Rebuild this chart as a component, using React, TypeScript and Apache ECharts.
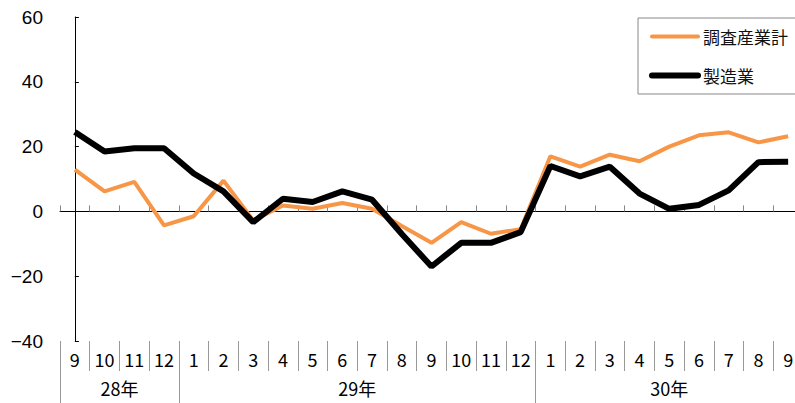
import React, { useEffect, useRef } from "react";
import * as echarts from "echarts";

const months = ["9", "10", "11", "12", "1", "2", "3", "4", "5", "6", "7", "8", "9", "10", "11", "12", "1", "2", "3", "4", "5", "6", "7", "8", "9"];
const yearLabels = ["28年", "29年", "30年"];
const yearLabelPos = [1.5, 9.5, 20];
const yearBoundaries = [-0.5, 3.5, 15.5];
const totalAll = [12.9, 6.2, 9.1, -4.3, -1.5, 9.5, -2.8, 1.8, 0.8, 2.6, 0.8, -4.5, -9.7, -3.3, -6.9, -5.5, 17, 13.8, 17.5, 15.5, 20, 23.5, 24.4, 21.3, 23.2];
const manufacturing = [24.5, 18.5, 19.5, 19.5, 11.7, 6.2, -3.3, 3.9, 2.9, 6.2, 3.6, -7, -17, -9.7, -9.7, -6.4, 14, 10.8, 13.8, 5.5, 0.8, 2, 6.5, 15.2, 15.3];
const seriesNames = ["調査産業計", "製造業"];

export default function App() {
  const ref = useRef<HTMLDivElement>(null);
  useEffect(() => {
    const chart = echarts.init(ref.current!, null, { renderer: "svg" });
    const jp = "'Noto Sans CJK JP', sans-serif";
    chart.setOption({
      animation: false,
      backgroundColor: "#fff",
      grid: { left: 60, right: -8, top: 17, bottom: 62, outerBoundsMode: "none", containLabel: false },
      legend: {
        orient: "vertical",
        left: 638,
        top: 18,
        padding: [10, 20, 10, 11],
        itemWidth: 46,
        itemHeight: 14,
        itemGap: 22,
        borderColor: "#888",
        borderWidth: 1,
        backgroundColor: "#fff",
        itemStyle: { opacity: 0 },
        textStyle: { fontFamily: jp, fontSize: 17, color: "#111" },
        data: [
          { name: seriesNames[0], lineStyle: { width: 4, color: "#F79646", cap: "round" } },
          { name: seriesNames[1], lineStyle: { width: 6, color: "#000", cap: "round" } },
        ],
      },
      xAxis: [
        {
          type: "category",
          data: months,
          position: "bottom",
          boundaryGap: true,
          axisLine: { show: false, onZero: false },
          axisTick: { show: true, length: 30, lineStyle: { color: "#999" } },
          axisLabel: { margin: 9, fontFamily: jp, fontSize: 18, color: "#000", interval: 0 },
          splitLine: { show: false },
        },
        {
          type: "category",
          data: months,
          position: "top",
          boundaryGap: true,
          axisLine: { show: true, onZero: true, lineStyle: { color: "#000", width: 1 } },
          axisTick: { show: true, length: 6, lineStyle: { color: "#888" } },
          axisLabel: { show: false },
          splitLine: { show: false },
        },
        {
          type: "value",
          position: "bottom",
          min: -0.5,
          max: 24.5,
          axisLine: { show: false, onZero: false },
          axisTick: { show: true, length: 62, customValues: yearBoundaries, lineStyle: { color: "#999" } },
          axisLabel: {
            customValues: yearLabelPos,
            margin: 38,
            fontFamily: jp,
            fontSize: 18,
            color: "#000",
            formatter: (v: number) => yearLabels[yearLabelPos.indexOf(v)] ?? "",
          },
          splitLine: { show: false },
        },
      ],
      yAxis: {
        type: "value",
        min: -40,
        max: 60,
        interval: 20,
        axisLine: { show: true, lineStyle: { color: "#000" } },
        axisTick: { show: true, inside: true, length: 4, lineStyle: { color: "#000" } },
        axisLabel: {
          margin: 17,
          fontFamily: "'Liberation Sans', Arial, sans-serif",
          fontSize: 19,
          color: "#000",
          formatter: (v: number) => String(v).replace("-", "−"),
        },
        splitLine: { show: false },
      },
      series: [
        {
          name: seriesNames[0],
          type: "line",
          data: totalAll,
          symbol: "none",
          lineStyle: { color: "#F79646", width: 4 },
          itemStyle: { color: "#F79646" },
        },
        {
          name: seriesNames[1],
          type: "line",
          data: manufacturing,
          symbol: "none",
          lineStyle: { color: "#000", width: 6 },
          itemStyle: { color: "#000" },
        },
      ],
    });
    return () => chart.dispose();
  }, []);
  return <div ref={ref} style={{ position: "fixed", left: 0, top: 0, width: 795, height: 403 }} />;
}
